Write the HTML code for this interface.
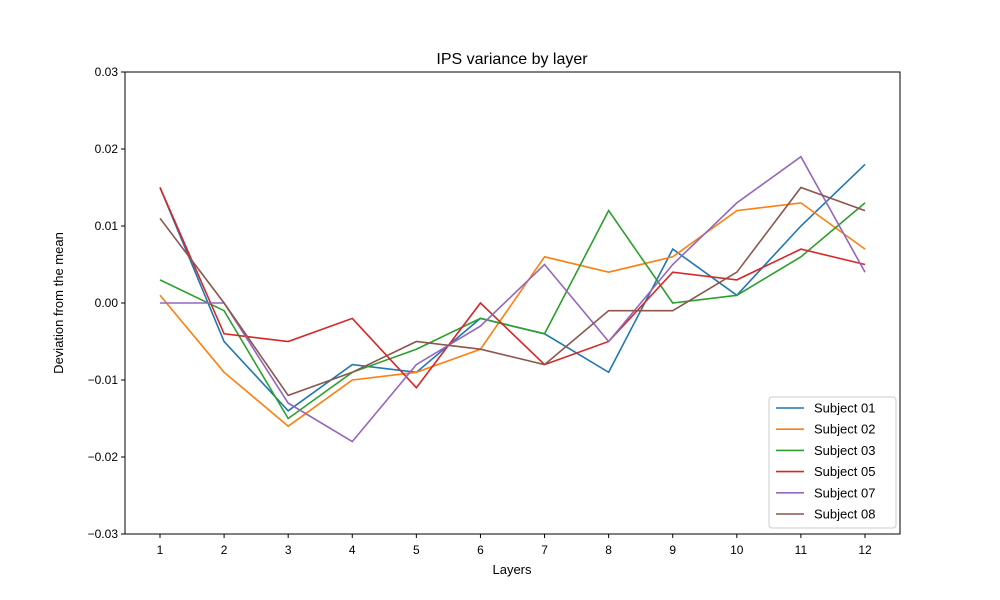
<!DOCTYPE html>
<html><head><meta charset="utf-8"><style>
body{margin:0;background:#fff;}
svg{display:block;font-family:"Liberation Sans","DejaVu Sans",sans-serif;}
</style></head><body>
<svg id="chart" width="1000" height="600"></svg>
<script>
const categories=[1,2,3,4,5,6,7,8,9,10,11,12];
const seriesNames=["Subject 01","Subject 02","Subject 03","Subject 05","Subject 07","Subject 08"];
const s01=[0.015,-0.005,-0.014,-0.008,-0.009,-0.002,-0.004,-0.009,0.007,0.001,0.010,0.018];
const s02=[0.001,-0.009,-0.016,-0.010,-0.009,-0.006,0.006,0.004,0.006,0.012,0.013,0.007];
const s03=[0.003,-0.001,-0.015,-0.009,-0.006,-0.002,-0.004,0.012,0.000,0.001,0.006,0.013];
const s05=[0.015,-0.004,-0.005,-0.002,-0.011,0.000,-0.008,-0.005,0.004,0.003,0.007,0.005];
const s07=[0.000,0.000,-0.013,-0.018,-0.008,-0.003,0.005,-0.005,0.005,0.013,0.019,0.004];
const s08=[0.011,0.000,-0.012,-0.009,-0.005,-0.006,-0.008,-0.001,-0.001,0.004,0.015,0.012];
const yTicks=[-0.03,-0.02,-0.01,0.00,0.01,0.02,0.03];
const yTickLabels=["\u22120.03","\u22120.02","\u22120.01","0.00","0.01","0.02","0.03"];
const colors=["#1f77b4","#ff7f0e","#2ca02c","#d62728","#9467bd","#8c564b"];
const allSeries=[s01,s02,s03,s05,s07,s08];
const L=125,R=900,T=72,B=534;
const xs=v=>160+(v-1)*(865-160)/11;
const ys=v=>B-(v+0.03)/0.06*(B-T);
const NS="http://www.w3.org/2000/svg";
const svg=document.getElementById('chart');
function mk(t,a,txt){const e=document.createElementNS(NS,t);for(const k in a)e.setAttribute(k,a[k]);if(txt!==undefined)e.textContent=txt;svg.appendChild(e);return e;}
let e;
e=mk('text',{x:512,y:64,'text-anchor':'middle','font-size':16},'IPS variance by layer');


categories.forEach(c=>{
 e=mk('line',{x1:xs(c),x2:xs(c),y1:B,y2:B+4,stroke:'#000'});
 
 
 e=mk('text',{x:xs(c),y:B+20,'text-anchor':'middle','font-size':12},String(c));
 
 
});
yTicks.forEach((v,i)=>{
 e=mk('line',{x1:L-4,x2:L,y1:ys(v),y2:ys(v),stroke:'#000'});
 
 
 e=mk('text',{x:L-7,y:ys(v)+4,'text-anchor':'end','font-size':12},yTickLabels[i]);
 
 
});
e=mk('text',{x:512,y:574,'text-anchor':'middle','font-size':13},'Layers');


e=mk('text',{x:63,y:303,'text-anchor':'middle','font-size':13,transform:'rotate(-90 63 303)'},'Deviation from the mean');


allSeries.forEach((s,i)=>{
 const pts=s.map((v,j)=>xs(categories[j])+','+ys(v)).join(' ');
 e=mk('polyline',{points:pts,fill:'none',stroke:colors[i],'stroke-width':1.6});
 
 
});
e=mk('rect',{x:L,y:T,width:R-L,height:B-T,fill:'none',stroke:'#000','stroke-width':1});


e=mk('rect',{x:769,y:397,width:127,height:131,rx:3,fill:'#fff','fill-opacity':0.8,stroke:'#ccc'});


seriesNames.forEach((n,i)=>{
 const y=408+i*21.2;
 e=mk('line',{x1:776,x2:804,y1:y,y2:y,stroke:colors[i],'stroke-width':1.6});
 
 
 e=mk('text',{x:814,y:y+4.5,'font-size':13},n);
 
 
});
</script>
</body></html>
